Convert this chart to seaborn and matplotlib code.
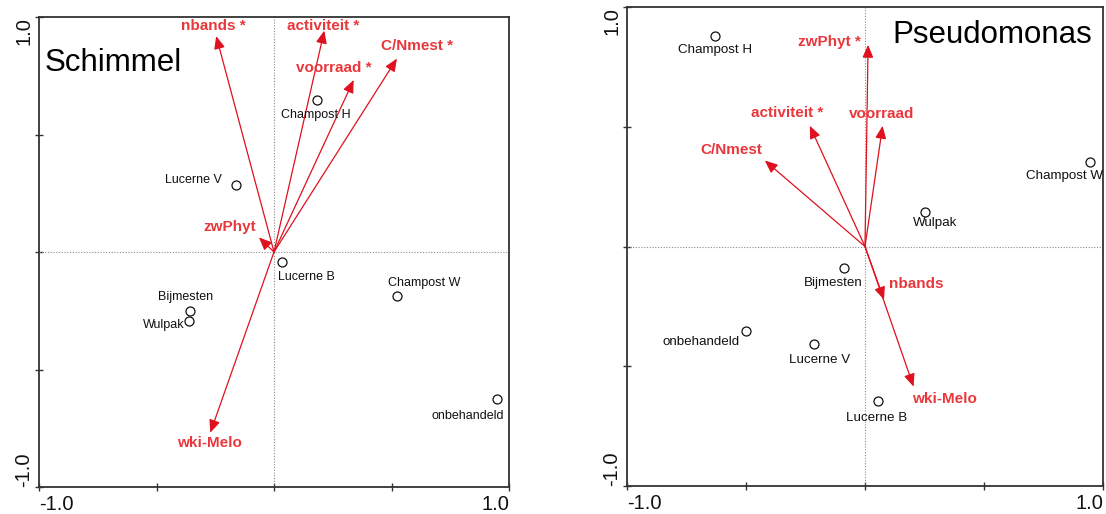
import numpy as np
import pandas as pd
import matplotlib
matplotlib.use("Agg")
import matplotlib.pyplot as plt
import seaborn as sns

# ---------------- data ----------------
# Left panel: Schimmel
sch_samples = ["Champost H", "Lucerne V", "Lucerne B", "Champost W", "Bijmesten", "Wulpak", "onbehandeld"]
sch_x = [0.181, -0.160, 0.034, 0.523, -0.356, -0.360, 0.951]
sch_y = [0.647, 0.284, -0.043, -0.187, -0.252, -0.292, -0.624]

sch_vars = ["nbands *", "activiteit *", "C/Nmest *", "voorraad *", "zwPhyt", "wki-Melo"]
sch_vx = [-0.246, 0.214, 0.523, 0.339, -0.064, -0.271]
sch_vy = [0.919, 0.942, 0.823, 0.732, 0.062, -0.769]

# Right panel: Pseudomonas
pse_samples = ["Champost H", "Champost W", "Wulpak", "Bijmesten", "onbehandeld", "Lucerne V", "Lucerne B"]
pse_x = [-0.629, 0.947, 0.251, -0.087, -0.502, -0.213, 0.053]
pse_y = [0.880, 0.351, 0.145, -0.089, -0.353, -0.406, -0.646]

pse_vars = ["zwPhyt *", "activiteit *", "voorraad", "C/Nmest", "nbands", "wki-Melo"]
pse_vx = [0.013, -0.232, 0.074, -0.421, 0.080, 0.204]
pse_vy = [0.842, 0.504, 0.504, 0.359, -0.222, -0.585]

# ---------------- layout (label offsets in pixels) ----------------
sch_sample_off = [(-1, -15), (-43, 5), (24, -15), (27, 13), (-5, 14), (-26, -4), (-30, -17)]
sch_var_off = [(-3, 10), (-1, 5), (20, 13), (-20, 12), (-29, 10), (-1, -10)]
pse_sample_off = [(0, -14), (-26, -14), (10, -11), (-11, -15), (-44, -11), (5, -16), (-1, -17)]
pse_var_off = [(-39, 3), (-23, 13), (-1, 12), (-33, 11), (32, 16), (31, -12)]

sns.set_theme(style="white")
plt.rcParams["font.family"] = ["Liberation Sans", "DejaVu Sans"]

ARROW = "#e0101e"
LABEL = "#e8383c"
PX = 0.72  # pixels -> points at dpi 100

W, H = 1106, 514
fig = plt.figure(figsize=(W / 100, H / 100), dpi=100)
ax1 = fig.add_axes([39 / W, (H - 487) / H, 470 / W, 470 / H])
ax2 = fig.add_axes([627 / W, (H - 486) / H, 476 / W, 479 / H])


def draw(ax, samples, sx, sy, vars_, vx, vy, s_off, v_off, title, title_pos, title_ha, sfs):
    ax.set_xlim(-1, 1)
    ax.set_ylim(-1, 1)
    ax.axhline(0, color="#8a8a8a", lw=0.8, ls=(0, (1, 1.5)), zorder=1)
    ax.axvline(0, color="#8a8a8a", lw=0.8, ls=(0, (1, 1.5)), zorder=1)

    df = pd.DataFrame({"x": sx, "y": sy, "name": samples})
    sns.scatterplot(data=df, x="x", y="y", ax=ax, marker="o", s=42,
                    facecolor="white", edgecolor="#111111", linewidth=0.9, zorder=4)
    for name, x, y, (dx, dy) in zip(samples, sx, sy, s_off):
        ax.annotate(name, (x, y), xytext=(dx * PX, dy * PX), textcoords="offset points",
                    ha="center", va="center", fontsize=sfs, color="#111111",
                    annotation_clip=False, clip_on=True, zorder=5)

    for name, x, y, (dx, dy) in zip(vars_, vx, vy, v_off):
        ax.annotate("", xy=(x, y), xytext=(0, 0),
                    arrowprops=dict(arrowstyle="-|>,head_length=0.7,head_width=0.3",
                                    color=ARROW, lw=0.9,
                                    mutation_scale=11, shrinkA=0, shrinkB=0),
                    zorder=3)
        ax.annotate(name, (x, y), xytext=(dx * PX, dy * PX), textcoords="offset points",
                    ha="center", va="center", fontsize=11, fontweight="bold", color=LABEL,
                    zorder=6)

    ax.text(title_pos[0], title_pos[1], title, transform=ax.transAxes,
            ha=title_ha, va="center", fontsize=22.5, color="black")

    ax.set_xlabel("")
    ax.set_ylabel("")
    ax.set_xticks([-1, 1])
    ax.set_xticks([-0.5, 0, 0.5], minor=True)
    ax.set_yticks([-1, 1])
    ax.set_yticks([-0.5, 0, 0.5], minor=True)
    ax.set_xticklabels(["-1.0", "1.0"], fontsize=14.5)
    ax.set_yticklabels(["-1.0", "1.0"], fontsize=14.5, rotation=90)
    xl = ax.get_xticklabels()
    xl[0].set_ha("left")
    xl[1].set_ha("right")
    yl = ax.get_yticklabels()
    yl[0].set_va("bottom")
    yl[1].set_va("top")
    for t in yl:
        t.set_ha("center")
    ax.tick_params(axis="both", which="both", direction="inout", length=6, width=1.0,
                   color="#333333", labelcolor="#111111")
    ax.tick_params(axis="x", which="both", bottom=True, top=False, pad=3)
    ax.tick_params(axis="y", which="both", left=True, right=False, pad=8)
    for sp in ax.spines.values():
        sp.set_color("#333333")
        sp.set_linewidth(1.3)
        sp.set_visible(True)


draw(ax1, sch_samples, sch_x, sch_y, sch_vars, sch_vx, sch_vy,
     sch_sample_off, sch_var_off, "Schimmel", (0.011, 0.902), "left", 9)
draw(ax2, pse_samples, pse_x, pse_y, pse_vars, pse_vx, pse_vy,
     pse_sample_off, pse_var_off, "Pseudomonas", (0.978, 0.942), "right", 9.6)

fig.savefig("out.png", dpi=100)
